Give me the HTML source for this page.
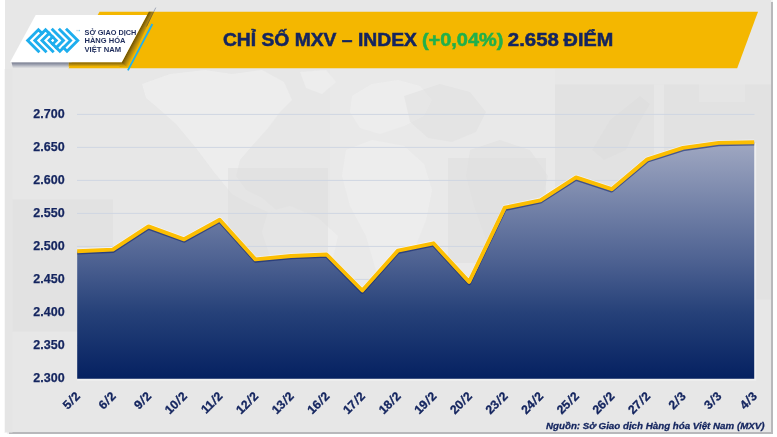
<!DOCTYPE html>
<html lang="vi">
<head>
<meta charset="utf-8">
<title>Chỉ số MXV – Index</title>
<style>
  html, body { margin: 0; padding: 0; }
  body {
    width: 777px; height: 437px; overflow: hidden; background: #ffffff;
    font-family: "Liberation Sans", sans-serif;
    position: relative;
  }
  .panel {
    position: absolute; left: 4.5px; top: -2px; width: 766.5px; height: 433.7px;
    background: #e7e7e7;
    box-shadow: 1.8px 1.8px 0.8px rgba(100,100,106,0.46);
  }
  svg.art { position: absolute; left: 0; top: 0; }
  .t { position: absolute; white-space: nowrap; line-height: 1; color: #14255f; font-weight: bold; }
  .title { font-size: 19px; top: 0; left: 0; transform-origin: 0 50%; -webkit-text-stroke: 0.55px currentColor; }
  .ylab { font-size: 13.3px; left: 25px; width: 40px; text-align: right; transform-origin: 100% 50%; transform: translate(-0.4px,-0.6px) scaleX(0.94); -webkit-text-stroke: 0.25px #14255f; }
  .xlab { font-size: 12.2px; left: 0; top: 0; height: 12.2px; transform-origin: 100% 50%; text-align: right; width: 40px; -webkit-text-stroke: 0.3px #14255f; }
  .xlab span { display: inline-block; margin: 0 0.8px; transform: skewX(-10deg); }
  .src { font-size: 9.75px; font-style: italic; left: 546px; top: 420.5px; color: #14255f; -webkit-text-stroke: 0.3px #14255f; }
  .logo-t { font-size: 7.9px; left: 0; top: 0; color: #1f2d5c; font-weight: bold; transform-origin: 0 50%; }
  #txt { position: absolute; left: 0; top: 0; width: 777px; height: 437px; will-change: transform; }
</style>
</head>
<body>
<div class="panel"></div>

<svg class="art" width="777" height="437" viewBox="0 0 777 437">
  <defs>
    <linearGradient id="areaG" gradientUnits="userSpaceOnUse" x1="0" y1="142" x2="0" y2="378.5">
      <stop offset="0" stop-color="#a0a8c2"/>
      <stop offset="0.5" stop-color="#4e6292"/>
      <stop offset="0.72" stop-color="#264179"/>
      <stop offset="1" stop-color="#052161"/>
    </linearGradient>
    <linearGradient id="shG" gradientUnits="userSpaceOnUse" x1="134.5" y1="38.7" x2="141.1" y2="42.2">
      <stop offset="0" stop-color="#6b5000"/>
      <stop offset="0.45" stop-color="#a88010"/>
      <stop offset="1" stop-color="#f4b700"/>
    </linearGradient>
    <linearGradient id="shY" gradientUnits="userSpaceOnUse" x1="0" y1="62.3" x2="0" y2="66.8">
      <stop offset="0" stop-color="#7a5b00"/>
      <stop offset="0.5" stop-color="#b48a0c"/>
      <stop offset="1" stop-color="#f4b700"/>
    </linearGradient>
    <linearGradient id="shB" gradientUnits="userSpaceOnUse" x1="0" y1="62.3" x2="0" y2="68.5">
      <stop offset="0" stop-color="#596078" stop-opacity="0.85"/>
      <stop offset="0.45" stop-color="#7d8398" stop-opacity="0.6"/>
      <stop offset="1" stop-color="#9aa0b0" stop-opacity="0"/>
    </linearGradient>
  </defs>

  <!-- faint world map -->
  <rect x="330" y="69" width="225" height="310" fill="#ebebeb" opacity="0.6"/>
  <rect x="555" y="84.5" width="216" height="215" fill="#e0e0e0" opacity="0.7"/>
  <rect x="654" y="84.5" width="10" height="70" fill="#e8e8e8" opacity="0.8"/>
  <rect x="699" y="78" width="46" height="24" fill="#e8e8e8" opacity="0.6"/>
  <g id="mapL" fill="#efefef" opacity="0.75">
    <path d="M142,84 L170,74 L205,70 L232,74 L262,70 L284,82 L292,100 L280,112 L268,128 L252,146 L240,160 L236,176 L246,190 L262,198 L276,210 L268,212 L250,204 L232,194 L214,172 L196,148 L176,124 L158,108 L146,98 Z"/>
    <path d="M300,72 L326,70 L336,82 L322,94 L306,88 Z"/>
    <path d="M268,212 L290,206 L318,218 L338,236 L332,262 L316,286 L304,312 L296,334 L288,318 L282,288 L270,256 L262,232 Z"/>
    <path d="M352,96 L372,84 L398,80 L420,86 L432,100 L424,116 L404,126 L380,134 L360,128 L350,112 Z"/>
    <path d="M346,150 L372,140 L404,146 L424,164 L432,190 L426,220 L414,250 L400,280 L386,294 L376,270 L366,236 L350,206 L342,176 Z"/>
  </g>
  <g id="mapR" fill="#d9d9d9" opacity="0.3">
    <path d="M404,96 L440,84 L470,92 L486,112 L476,132 L452,142 L428,138 L410,122 Z"/>
    <path d="M470,150 L500,140 L530,150 L548,176 L540,206 L520,236 L500,262 L486,240 L474,206 L466,176 Z"/>
    <path d="M610,120 L640,96 L650,104 L636,128 L626,150 L604,160 L592,150 Z"/>
  </g>
  <rect x="12.5" y="199.5" width="100.5" height="132" fill="#dfdfdf" opacity="0.55"/>
  <rect x="4.5" y="69" width="8" height="364" fill="#e3e3e3" opacity="0.5"/>
  <rect x="228" y="168" width="100" height="122" fill="#dedede" opacity="0.5"/>
  <rect x="448" y="158" width="98" height="105" fill="#dddddd" opacity="0.5"/>
  <!-- gridlines -->
  <g stroke="#cfd6e2" stroke-width="1">
    <line x1="77" y1="114.4" x2="754.5" y2="114.4"/>
    <line x1="77" y1="147.4" x2="754.5" y2="147.4"/>
    <line x1="77" y1="180.4" x2="754.5" y2="180.4"/>
    <line x1="77" y1="213.4" x2="754.5" y2="213.4"/>
    <line x1="77" y1="246.4" x2="754.5" y2="246.4"/>
    <line x1="77" y1="279.4" x2="754.5" y2="279.4"/>
    <line x1="77" y1="312.4" x2="754.5" y2="312.4"/>
    <line x1="77" y1="345.4" x2="754.5" y2="345.4"/>
  </g>

  <!-- area -->
  <polyline fill="none" stroke="#f1f1f1" stroke-opacity="0.85" stroke-width="2" points="755.2,143 755.2,379.8 77.2,379.8"/>
  <path id="area" fill="url(#areaG)" d="M77.2,378.8 L77.2,251.2 L112.8,249.6 L148.5,226.4 L184.1,239.3 L219.7,219.7 L255.4,259.4 L291.0,256.0 L326.6,254.5 L362.3,290.5 L397.9,250.6 L433.5,243.3 L469.1,281.9 L504.8,207.7 L540.4,200.3 L576.0,177.4 L611.7,189.2 L647.3,159.3 L682.9,147.9 L718.6,142.9 L754.2,142.2 L754.2,378.8 Z"/>
  <!-- line shadow -->
  <polyline fill="none" stroke="#14286e" stroke-opacity="0.6" stroke-width="3.9" stroke-linejoin="round" points="77.2,252.6 112.8,251.0 148.5,227.8 184.1,240.7 219.7,221.1 255.4,260.8 291.0,257.4 326.6,255.9 362.3,291.9 397.9,252.0 433.5,244.7 469.1,283.3 504.8,209.1 540.4,201.7 576.0,178.8 611.7,190.6 647.3,160.7 682.9,149.3 718.6,144.3 754.2,143.6"/>
  <!-- line highlight -->
  <polyline fill="none" stroke="#ffffff" stroke-opacity="0.55" stroke-width="3.9" stroke-linejoin="round" points="77.2,250.4 112.8,248.8 148.5,225.6 184.1,238.5 219.7,218.9 255.4,258.6 291.0,255.2 326.6,253.7 362.3,289.7 397.9,249.8 433.5,242.5 469.1,281.1 504.8,206.9 540.4,199.5 576.0,176.6 611.7,188.4 647.3,158.5 682.9,147.1 718.6,142.1 754.2,141.4"/>
  <!-- line -->
  <polyline fill="none" stroke="#fcbe02" stroke-width="3.9" stroke-linejoin="round" points="77.2,251.2 112.8,249.6 148.5,226.4 184.1,239.3 219.7,219.7 255.4,259.4 291.0,256.0 326.6,254.5 362.3,290.5 397.9,250.6 433.5,243.3 469.1,281.9 504.8,207.7 540.4,200.3 576.0,177.4 611.7,189.2 647.3,159.3 682.9,147.9 718.6,142.9 754.2,142.2"/>

  <!-- header banner -->
  <polygon points="99.5,11.7 758,11.7 737.2,68.3 68.5,68.3" fill="#f4b700"/>
  <!-- shadow wedge right of logo box -->
  <polygon points="148.9,11.8 153.9,11.8 128.6,66.8 119.4,66.8 121.8,62.3" fill="url(#shG)"/>
  <!-- bottom shadow of logo box on yellow -->
  <polygon points="68.5,62.3 121.8,62.3 126.5,66.8 68.5,66.8" fill="url(#shY)"/>
  <!-- thin dark line -->
  <line x1="155.8" y1="7.6" x2="153.6" y2="12" stroke="#8f97aa" stroke-width="0.8"/>
  <line x1="153.6" y1="12" x2="146.5" y2="26.5" stroke="#4a4a48" stroke-opacity="0.8" stroke-width="0.7"/>
  <!-- blue slash -->
  <line x1="152.4" y1="24.0" x2="127.9" y2="70.3" stroke="#20b0f0" stroke-width="1.8"/>
  <!-- bottom shadow of logo box on grey -->
  <polygon points="11.5,62.3 68.5,62.3 68.5,68.5 13,68.5" fill="url(#shB)"/>
  <!-- logo white box -->
  <polygon points="35.7,15.1 147.05,15.1 121.8,62.3 10,62.3" fill="#ffffff"/>

  <!-- logo mark -->
  <g fill="none" stroke="#1eaeee" stroke-width="2.9" stroke-linecap="square" stroke-linejoin="miter">
    <polyline points="38.40,51.18 27.68,40.45 38.40,29.73 41.98,33.30"/>
    <polyline points="45.55,51.18 34.83,40.45 45.55,29.73 56.28,40.45 52.70,44.03"/>
    <polyline points="52.70,51.18 41.98,40.45 49.12,33.30"/>
    <polyline points="67.00,29.73 77.73,40.45 67.00,51.18 63.42,47.60"/>
    <polyline points="59.85,29.73 70.58,40.45 59.85,51.18 49.12,40.45 52.70,36.88"/>
    <polyline points="52.70,29.73 63.43,40.45 56.28,47.60"/>
  </g>
  <polygon points="51.2,40.45 52.7,38.95 54.2,40.45 52.7,41.95" fill="#ffffff"/>
  <rect x="76.2" y="29.9" width="2.7" height="1.3" fill="#d9dbe0"/>
  <rect x="78.9" y="29.9" width="1.1" height="1.3" fill="#6ccff6"/>
</svg>

<div id="txt">
<!-- logo text -->
<div class="t logo-t" id="lt1" style="transform: translate(84.5px,28.7px) scaleX(0.928);">SỞ GIAO DỊCH</div>
<div class="t logo-t" id="lt2" style="transform: translate(84.5px,37.3px) scaleX(0.954);">HÀNG HÓA</div>
<div class="t logo-t" id="lt3" style="transform: translate(84.5px,45.5px) scaleX(0.97);">VIỆT NAM</div>

<!-- title -->
<div class="t title" id="ti1" style="transform: translate(222.9px,30.2px) scaleX(1.015);">CHỈ SỐ MXV – INDEX</div>
<div class="t title" id="ti2" style="color:#21b04b; transform: translate(421.9px,30.2px) scaleX(1.049);">(+0,04%)</div>
<div class="t title" id="ti3" style="transform: translate(507.8px,30.2px) scaleX(1.074);">2.658</div>
<div class="t title" id="ti4" style="transform: translate(563.6px,30.2px) scaleX(1.043);">ĐIỂM</div>

<!-- y labels -->
<div class="t ylab" style="top:108px;">2.700</div>
<div class="t ylab" style="top:141px;">2.650</div>
<div class="t ylab" style="top:174px;">2.600</div>
<div class="t ylab" style="top:207px;">2.550</div>
<div class="t ylab" style="top:240px;">2.500</div>
<div class="t ylab" style="top:273px;">2.450</div>
<div class="t ylab" style="top:306px;">2.400</div>
<div class="t ylab" style="top:339px;">2.350</div>
<div class="t ylab" style="top:372px;">2.300</div>

<!-- x labels -->
<div class="t xlab" style="transform: translate(38.10px,388.00px) rotate(-45deg);">5<span>/</span>2</div>
<div class="t xlab" style="transform: translate(73.73px,388.00px) rotate(-45deg);">6<span>/</span>2</div>
<div class="t xlab" style="transform: translate(109.36px,388.00px) rotate(-45deg);">9<span>/</span>2</div>
<div class="t xlab" style="transform: translate(144.99px,388.00px) rotate(-45deg);">10<span>/</span>2</div>
<div class="t xlab" style="transform: translate(180.63px,388.00px) rotate(-45deg);">11<span>/</span>2</div>
<div class="t xlab" style="transform: translate(216.26px,388.00px) rotate(-45deg);">12<span>/</span>2</div>
<div class="t xlab" style="transform: translate(251.89px,388.00px) rotate(-45deg);">13<span>/</span>2</div>
<div class="t xlab" style="transform: translate(287.52px,388.00px) rotate(-45deg);">16<span>/</span>2</div>
<div class="t xlab" style="transform: translate(323.15px,388.00px) rotate(-45deg);">17<span>/</span>2</div>
<div class="t xlab" style="transform: translate(358.78px,388.00px) rotate(-45deg);">18<span>/</span>2</div>
<div class="t xlab" style="transform: translate(394.42px,388.00px) rotate(-45deg);">19<span>/</span>2</div>
<div class="t xlab" style="transform: translate(430.05px,388.00px) rotate(-45deg);">20<span>/</span>2</div>
<div class="t xlab" style="transform: translate(465.68px,388.00px) rotate(-45deg);">23<span>/</span>2</div>
<div class="t xlab" style="transform: translate(501.31px,388.00px) rotate(-45deg);">24<span>/</span>2</div>
<div class="t xlab" style="transform: translate(536.94px,388.00px) rotate(-45deg);">25<span>/</span>2</div>
<div class="t xlab" style="transform: translate(572.57px,388.00px) rotate(-45deg);">26<span>/</span>2</div>
<div class="t xlab" style="transform: translate(608.21px,388.00px) rotate(-45deg);">27<span>/</span>2</div>
<div class="t xlab" style="transform: translate(643.84px,388.00px) rotate(-45deg);">2<span>/</span>3</div>
<div class="t xlab" style="transform: translate(679.47px,388.00px) rotate(-45deg);">3<span>/</span>3</div>
<div class="t xlab" style="transform: translate(715.10px,388.00px) rotate(-45deg);">4<span>/</span>3</div>

<div class="t src" id="src">Nguồn: Sở Giao dịch Hàng hóa Việt Nam (MXV)</div>
</div>
</body>
</html>
